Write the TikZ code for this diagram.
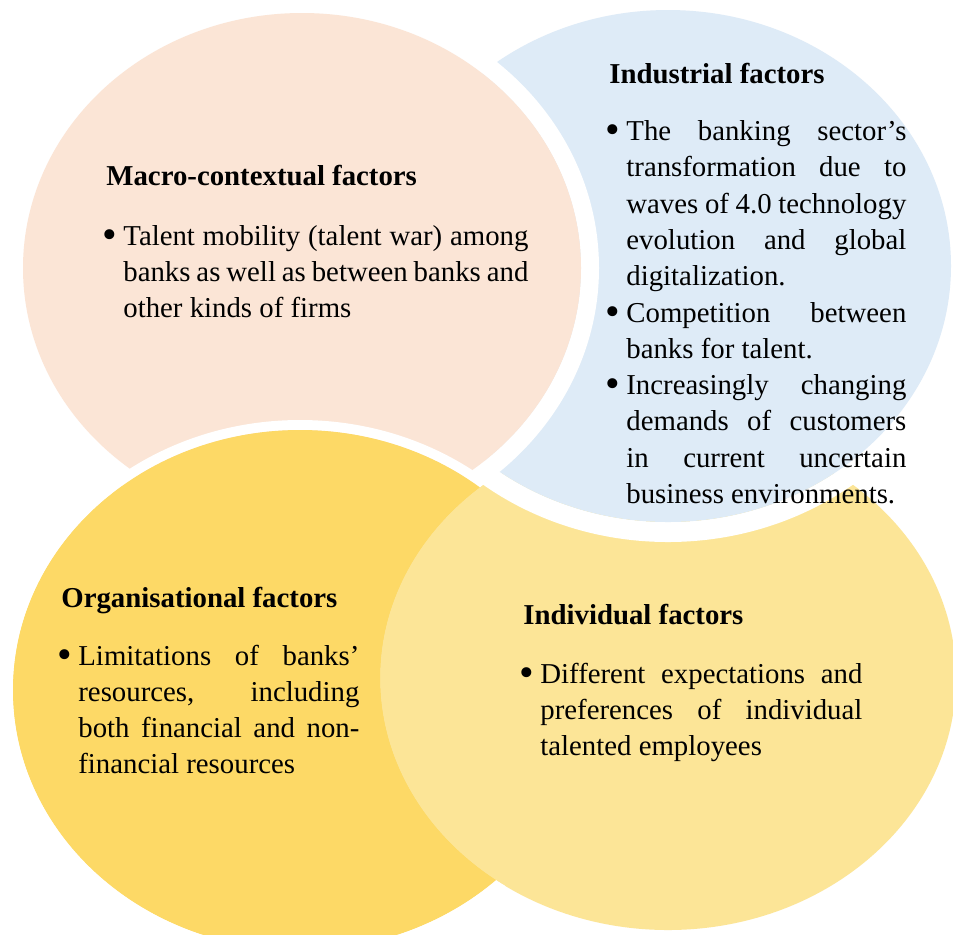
\documentclass[tikz,border=0pt]{standalone}
\usepackage{fontspec}
\usepackage{graphicx}
\setmainfont{Liberation Serif}
\definecolor{peach}{HTML}{FBE5D6}
\definecolor{bluec}{HTML}{DEEBF7}
\definecolor{orangec}{HTML}{FDD966}
\definecolor{yellowc}{HTML}{FCE597}
\newcommand\bul{\makebox[0pt][r]{\raisebox{-0.11em}{\scalebox{1.45}{\textbullet}}\hspace{3pt}}}
\newcommand\jl[1]{\makebox[\linewidth][s]{#1}}
\tikzset{
  head/.style={anchor=base west, inner sep=0, font=\fontsize{14.4pt}{18.15pt}\selectfont\bfseries},
  para/.style={anchor=base west, inner sep=0, font=\fontsize{14.4pt}{18.15pt}\selectfont},
}
\begin{document}
\begin{tikzpicture}[x=0.5pt,y=-0.5pt]
\clip (0,0) rectangle (953,934);
\fill[white] (0,0) rectangle (953,934);
% base orange so the individual circle's edge blends cleanly
\fill[orangec] (300,690) ellipse [x radius=287, y radius=260];
% individual (under blue)
\fill[yellowc] (668,678) ellipse [x radius=288, y radius=252];
% industrial
\draw[white, line width=10pt] (668,266) ellipse [x radius=293, y radius=266];
\fill[bluec] (668,266) ellipse [x radius=283, y radius=256];
% macro
\draw[white, line width=9pt] (302,268) ellipse [x radius=288, y radius=264];
\fill[peach] (302,268) ellipse [x radius=279, y radius=255];
% organisational, kept outside the individual circle
\begin{scope}
  \clip (0,0) -- (0,934) -- (953,934) -- (953,0) -- cycle
        (668,678) ellipse [x radius=288, y radius=252];
  \draw[white, line width=5pt] (300,690) ellipse [x radius=292, y radius=265];
  \fill[orangec] (300,690) ellipse [x radius=287, y radius=260];
\end{scope}

\node[head] (mh) at (106,185) {Macro-contextual factors};
\node[para] (mt) at (123,245) {\parbox[t]{202.5pt}{\bul\jl{Talent mobility (talent war) among}\\
\jl{banks as well as between banks and}\\
other kinds of firms}};

\node[head] (ih) at (609,83) {Industrial factors};
\node[para] (it) at (626,140.5) {\parbox[t]{140pt}{\bul\jl{The banking sector’s}\\
\jl{transformation due to}\\
\jl{waves of 4.0 technology}\\
\jl{evolution and global}\\
digitalization.\\
\bul\jl{Competition between}\\
banks for talent.\\
\bul\jl{Increasingly changing}\\
\jl{demands of customers}\\
\jl{in current uncertain}\\
business environments.}};

\node[head] (oh) at (61,607) {Organisational factors};
\node[para] (ot) at (78,665) {\parbox[t]{140.5pt}{\bul\jl{Limitations of banks’}\\
\jl{resources, including}\\
\jl{both financial and non-}\\
financial resources}};

\node[head] (dh) at (523,624) {Individual factors};
\node[para] (dt) at (540,683) {\parbox[t]{161pt}{\bul\jl{Different expectations and}\\
\jl{preferences of individual}\\
talented employees}};
\end{tikzpicture}
\end{document}
